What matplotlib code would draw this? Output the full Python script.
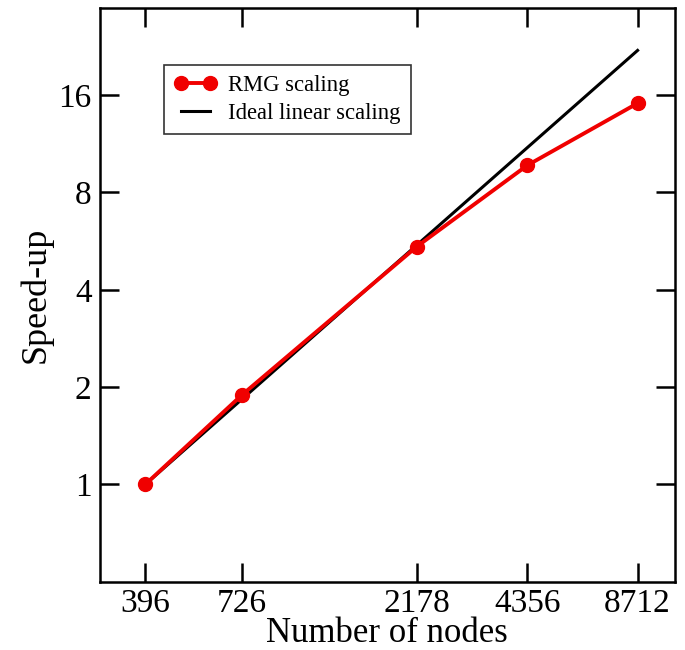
import matplotlib.pyplot as plt
import matplotlib.ticker as mticker
import numpy as np

plt.rcParams['font.family'] = ['Liberation Serif', 'DejaVu Serif']
plt.rcParams['mathtext.fontset'] = 'stix'

nodes = [396, 726, 2178, 4356, 8712]
rmg_speedup = [1.0, 1.89, 5.44, 9.7, 15.1]
ideal_nodes = [396, 8712]
ideal_speedup = [1.0, 22.0]
y_ticks = [1, 2, 4, 8, 16]

fig = plt.figure(figsize=(6.85, 6.5), dpi=100)
ax = fig.add_axes([0.146, 0.105, 0.839, 0.883])

ax.plot(nodes, rmg_speedup, color='#f00000', lw=2.8, marker='o', ms=10,
        label='RMG scaling', zorder=3)
ax.plot(ideal_nodes, ideal_speedup, color='black', lw=2.2, label='Ideal linear scaling',
        zorder=2)

ax.set_xscale('log', base=2)
ax.set_yscale('log', base=2)
ax.set_xlim(298, 11000)
ax.set_ylim(0.5, 29.8)

ax.xaxis.set_major_locator(mticker.FixedLocator(nodes))
ax.xaxis.set_major_formatter(mticker.FixedFormatter([str(n) for n in nodes]))
ax.xaxis.set_minor_locator(mticker.NullLocator())
ax.yaxis.set_major_locator(mticker.FixedLocator(y_ticks))
ax.yaxis.set_major_formatter(mticker.FixedFormatter([str(t) for t in y_ticks]))
ax.yaxis.set_minor_locator(mticker.NullLocator())

ax.tick_params(direction='in', length=14, width=1.8, labelsize=24,
               top=True, right=True)
ax.tick_params(axis='x', pad=5)
ax.tick_params(axis='y', pad=6)
for s in ax.spines.values():
    s.set_linewidth(1.8)

ax.set_xlabel('Number of nodes', fontsize=25, labelpad=-1.5)
ax.set_ylabel('Speed-up', fontsize=26, labelpad=4)

leg = ax.legend(loc='upper left', bbox_to_anchor=(0.111, 0.90), fontsize=16.3,
                frameon=True, fancybox=False, edgecolor='black', numpoints=2,
                handlelength=1.9, handletextpad=0.5, borderpad=0.45,
                labelspacing=0.3, borderaxespad=0)
leg.get_frame().set_linewidth(1.2)

fig.savefig('out.png', dpi=100)
